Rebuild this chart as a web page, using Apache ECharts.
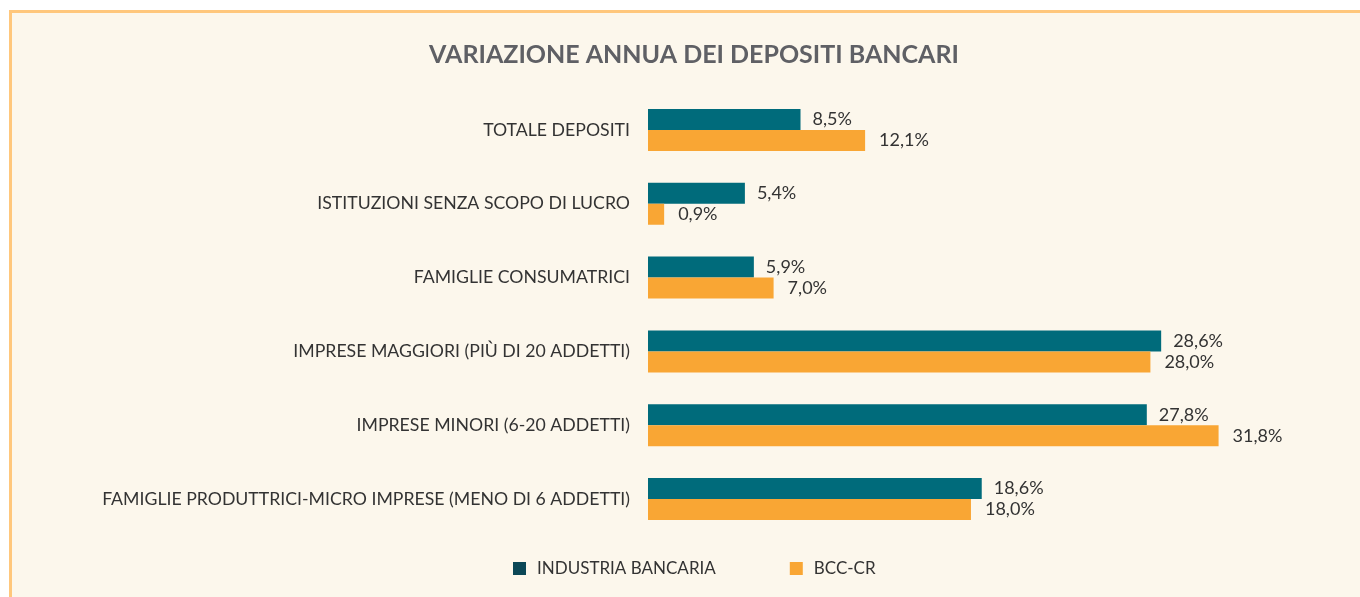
<!DOCTYPE html>
<html>
<head>
<meta charset="utf-8">
<script src="https://cdn.jsdelivr.net/npm/echarts@6/dist/echarts.min.js"></script>
<style>
  html, body { margin: 0; padding: 0; background: #fff; width: 1360px; height: 597px; overflow: hidden; }
  #frame { position: absolute; left: 9px; top: 10px; width: 1400px; height: 640px; background: #fcf7ec; border: 3px solid #ffc77c; }
  #chart { position: absolute; left: 0; top: 0; width: 1360px; height: 597px; }
</style>
</head>
<body>
<div id="frame"></div>
<div id="chart"></div>
<script>
const categories = [
  'TOTALE DEPOSITI',
  'ISTITUZIONI SENZA SCOPO DI LUCRO',
  'FAMIGLIE CONSUMATRICI',
  'IMPRESE MAGGIORI (PIÙ DI 20 ADDETTI)',
  'IMPRESE MINORI (6-20 ADDETTI)',
  'FAMIGLIE PRODUTTRICI-MICRO IMPRESE (MENO DI 6 ADDETTI)'
]
const industriaBancaria = [8.5, 5.4, 5.9, 28.6, 27.8, 18.6]
const bccCr = [12.1, 0.9, 7.0, 28.0, 31.8, 18.0]

const fontFamily = 'Lato, "Noto Sans", sans-serif'
const fmt = (p) => p.value.toFixed(1).replace('.', ',') + '%'

const chart = echarts.init(document.getElementById('chart'))
chart.setOption({
  backgroundColor: 'transparent',
  animation: false,
  title: {
    text: 'VARIAZIONE ANNUA DEI DEPOSITI BANCARI',
    left: 689, top: 37, textAlign: 'center',
    textStyle: { color: '#5f6065', fontSize: 25, fontWeight: 'bold', fontFamily }
  },
  legend: {
    left: 513, top: 560, padding: 0, itemWidth: 13, itemHeight: 13, itemGap: 74,
    icon: 'rect',
    textStyle: { color: '#333', fontSize: 17, fontFamily, padding: [0, 0, 0, 6] },
    data: [
      { name: 'INDUSTRIA BANCARIA', itemStyle: { color: '#0b4756' } },
      { name: 'BCC-CR', itemStyle: { color: '#f9a634' } }
    ]
  },
  grid: { left: 648, right: 84, top: 93, bottom: 61, containLabel: false },
  xAxis: { type: 'value', min: 0, max: 35, show: false },
  yAxis: {
    type: 'category', data: categories, inverse: true,
    axisLine: { show: false }, axisTick: { show: false },
    axisLabel: { color: '#333', fontSize: 17.7, fontFamily, margin: 18 }
  },
  series: [
    {
      name: 'INDUSTRIA BANCARIA', type: 'bar', data: industriaBancaria,
      barWidth: 21, barGap: '0%',
      itemStyle: { color: '#006b7b' },
      label: { show: true, position: 'right', distance: 12, formatter: fmt, color: '#333', fontSize: 18, fontFamily }
    },
    {
      name: 'BCC-CR', type: 'bar', data: bccCr,
      barWidth: 21, barGap: '0%',
      itemStyle: { color: '#f9a634' },
      label: { show: true, position: 'right', distance: 14, formatter: fmt, color: '#333', fontSize: 18, fontFamily }
    }
  ]
})
</script>
</body>
</html>
